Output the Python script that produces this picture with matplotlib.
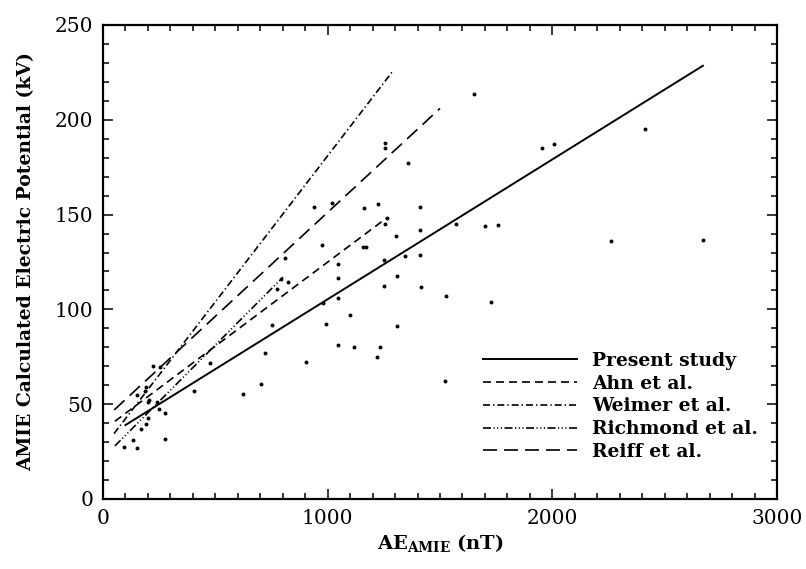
import matplotlib
matplotlib.use("Agg")
import matplotlib.pyplot as plt
from matplotlib.ticker import MultipleLocator

plt.rcParams["font.family"] = "DejaVu Serif"
plt.rcParams["mathtext.fontset"] = "dejavuserif"

# scattered event values (AE in nT, potential in kV)
ae_obs = [1653, 2411, 1953, 2008, 1255, 1255, 1358, 939, 1021, 1163, 1223, 1410,
          1266, 1255, 1569, 1701, 1756, 1410, 1305, 975, 1159, 1172, 2260, 2670,
          808, 1342, 1410, 1250, 1046, 1308, 1046, 792, 824, 774, 1250, 1415,
          1525, 1046, 980, 1729, 1099, 993, 751, 1310, 1046, 1115, 1232, 1218,
          721, 904, 1523, 705, 625, 403, 478, 222, 252, 190, 201, 251,
          276, 199, 190, 167, 95, 132, 150, 276, 239, 150, 205, 185]
pot_obs = [213.5, 195, 185, 187, 188, 185, 177, 154, 156, 153.6, 155.5, 154,
           148, 145, 145, 144, 144.6, 141.7, 138.6, 134, 133, 133, 136, 136.7,
           127, 128, 128.5, 126, 124, 117.5, 116.5, 116, 114.6, 111, 112.5, 111.8,
           107, 106, 103.5, 104, 97, 92.5, 92, 91, 81, 80, 80, 75,
           77, 72.5, 62, 60.8, 55.6, 56.8, 71.7, 70.3, 69.5, 59, 51, 47.5,
           45.5, 42.6, 39.6, 37, 27.6, 31, 26.7, 31.6, 51.3, 55, 52, 57]

# fitted relations, end points
present_x = [100, 2670]
present_y = [39, 228.5]
ahn_x = [53, 1260]
ahn_y = [41, 148]
weimer_x = [49, 1292]
weimer_y = [34.5, 226]
richmond_x = [53, 801]
richmond_y = [28, 117]
reiff_x = [50, 1500]
reiff_y = [47, 206]

labels = ["Present study", "Ahn et al.", "Weimer et al.",
          "Richmond et al.", "Reiff et al."]

fig = plt.figure(figsize=(8.06, 5.69), dpi=100)
ax = fig.add_axes([103 / 806, 1 - 499 / 569, 674 / 806, 474 / 569])

lw = 1.2
ax.plot(present_x, present_y, color="black", lw=1.4, label=labels[0])
ax.plot(ahn_x, ahn_y, color="black", lw=lw, dashes=(4.8, 3), label=labels[1])
ax.plot(weimer_x, weimer_y, color="black", lw=lw,
        dashes=(4.2, 1.8, 0.8, 1.8), label=labels[2])
ax.plot(richmond_x, richmond_y, color="black", lw=lw,
        dashes=(4.8, 1.5, 0.7, 1.5, 0.7, 1.5, 0.7, 1.5), label=labels[3])
ax.plot(reiff_x, reiff_y, color="black", lw=lw, dashes=(8.4, 4.2), label=labels[4])

ax.scatter(ae_obs, pot_obs, s=8, color="black", linewidths=0, zorder=3)

ax.set_xlim(0, 3000)
ax.set_ylim(0, 250)
ax.xaxis.set_major_locator(MultipleLocator(1000))
ax.xaxis.set_minor_locator(MultipleLocator(100))
ax.yaxis.set_major_locator(MultipleLocator(50))
ax.yaxis.set_minor_locator(MultipleLocator(10))
ax.tick_params(which="both", direction="in", top=True, right=True,
               width=1.1, labelsize=14.5, pad=7)
ax.tick_params(which="major", length=7.5)
ax.tick_params(which="minor", length=4.5)
for sp in ax.spines.values():
    sp.set_linewidth(1.6)

ax.set_ylabel("AMIE Calculated Electric Potential (kV)", fontsize=13.5,
              fontweight="bold", va="center")
ax.yaxis.set_label_coords(-0.114, 0.5)
ax.set_xlabel(r"$\mathbf{AE}_{\mathbf{AMIE}}$ $\mathbf{(nT)}$", fontsize=14)
ax.xaxis.set_label_coords(0.5, -0.07)

ax.legend(loc="upper left", bbox_to_anchor=(483 / 806, 1 - 352 / 569),
          bbox_transform=fig.transFigure, frameon=False, borderpad=0,
          borderaxespad=0, handlelength=5.0, handletextpad=0.8,
          labelspacing=0.25, prop={"size": 13.5, "weight": "bold"})

fig.savefig("out.png", dpi=100)
